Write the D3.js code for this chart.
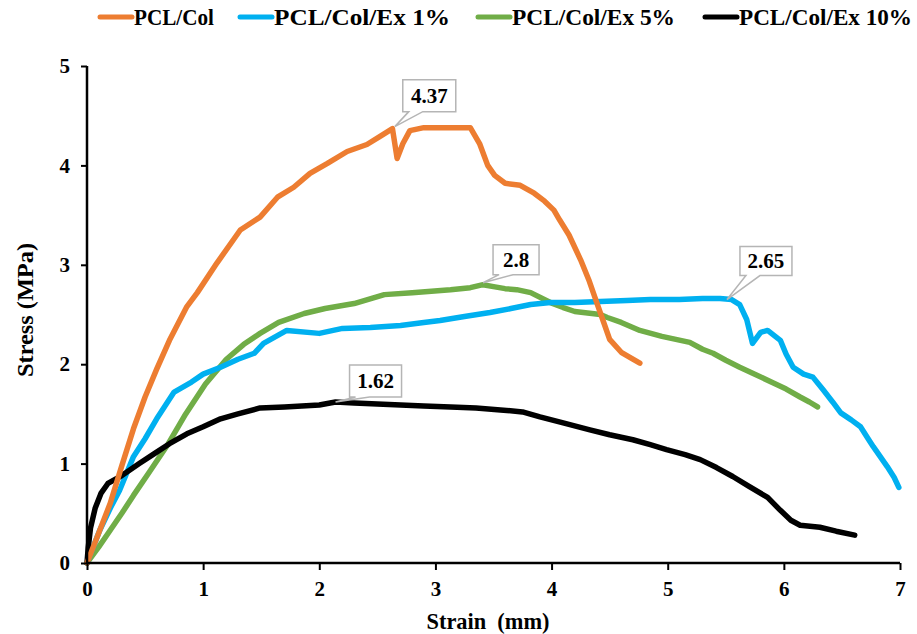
<!DOCTYPE html>
<html><head><meta charset="utf-8">
<script src="https://cdn.jsdelivr.net/npm/d3@7"></script>
<style>body{margin:0;background:#fff}svg{display:block}text{font-family:"Liberation Serif","Times New Roman",serif;font-weight:bold}</style>
</head><body><svg id="c" width="917" height="634"></svg>
<script>
const seriesNames = ["PCL/Col","PCL/Col/Ex 1%","PCL/Col/Ex 5%","PCL/Col/Ex 10%"];
const seriesColors = ["#ED7D31","#00B0F0","#70AD47","#000000"];
const xTicks = [0,1,2,3,4,5,6,7];
const yTicks = [0,1,2,3,4,5];

const pclColX = [0,0.1,0.2,0.3,0.4,0.5,0.6,0.71,0.86,0.95,1.12,1.32,1.49,1.64,1.78,1.92,2.07,2.24,2.41,2.52,2.63,2.67,2.72,2.78,2.9,3.1,3.2,3.3,3.38,3.45,3.51,3.6,3.73,3.85,3.94,4.02,4.07,4.15,4.25,4.32,4.38,4.44,4.5,4.6,4.7,4.76];
const pclColY = [0,0.3,0.6,0.98,1.35,1.67,1.95,2.24,2.58,2.72,3.02,3.35,3.48,3.68,3.78,3.92,4.02,4.14,4.21,4.29,4.37,4.07,4.22,4.35,4.38,4.38,4.38,4.38,4.22,4.0,3.9,3.82,3.8,3.72,3.64,3.55,3.45,3.3,3.05,2.85,2.65,2.45,2.25,2.12,2.05,2.01];

const ex1X = [0,0.05,0.11,0.2,0.28,0.4,0.5,0.6,0.75,0.9,1.0,1.15,1.3,1.44,1.52,1.72,2.0,2.2,2.44,2.7,2.9,3.04,3.25,3.47,3.65,3.82,3.99,4.2,4.42,4.65,4.85,5.1,5.3,5.45,5.55,5.62,5.68,5.73,5.8,5.86,5.97,6.02,6.08,6.17,6.25,6.34,6.42,6.49,6.58,6.66,6.72,6.77,6.83,6.89,6.95,6.99];
const ex1Y = [0,0.15,0.33,0.55,0.73,1.07,1.25,1.45,1.72,1.82,1.9,1.97,2.05,2.11,2.21,2.34,2.31,2.36,2.37,2.39,2.42,2.44,2.48,2.52,2.56,2.6,2.62,2.62,2.63,2.64,2.65,2.65,2.66,2.66,2.65,2.6,2.45,2.21,2.32,2.34,2.24,2.1,1.97,1.9,1.87,1.74,1.62,1.51,1.44,1.37,1.26,1.17,1.07,0.97,0.86,0.76];

const ex5X = [0,0.1,0.2,0.3,0.4,0.54,0.7,0.85,1.02,1.2,1.35,1.49,1.65,1.87,2.05,2.3,2.56,2.8,3.13,3.3,3.41,3.5,3.6,3.7,3.82,3.99,4.1,4.2,4.42,4.48,4.6,4.76,4.95,5.19,5.3,5.39,5.5,5.62,5.75,5.91,6.02,6.14,6.22,6.29];
const ex5Y = [0,0.16,0.33,0.5,0.68,0.92,1.2,1.5,1.8,2.05,2.2,2.31,2.42,2.51,2.56,2.61,2.7,2.72,2.75,2.77,2.8,2.78,2.76,2.75,2.72,2.62,2.57,2.53,2.5,2.47,2.42,2.34,2.28,2.22,2.15,2.11,2.04,1.97,1.9,1.81,1.75,1.67,1.62,1.57];

const ex10X = [0,0.01,0.03,0.07,0.12,0.18,0.3,0.45,0.58,0.71,0.86,1.0,1.15,1.3,1.49,1.7,2.0,2.14,2.3,2.5,2.7,2.9,3.13,3.35,3.56,3.75,3.9,4.1,4.33,4.5,4.7,4.85,4.99,5.15,5.28,5.42,5.56,5.7,5.86,5.97,6.06,6.14,6.31,6.45,6.61];
const ex10Y = [0,0.15,0.35,0.55,0.7,0.8,0.88,1.0,1.1,1.2,1.3,1.37,1.45,1.5,1.56,1.57,1.59,1.62,1.61,1.6,1.59,1.58,1.57,1.56,1.54,1.52,1.47,1.41,1.34,1.29,1.24,1.19,1.14,1.09,1.04,0.96,0.87,0.77,0.66,0.53,0.43,0.38,0.36,0.32,0.28];

const peakLabels = ["4.37","2.8","2.65","1.62"];
const peakX = [2.65,3.41,5.51,2.14];
const peakY = [4.39,2.82,2.65,1.62];

const svg = d3.select("#c");
const x = d3.scaleLinear().domain([0,7]).range([87,900]);
const y = d3.scaleLinear().domain([0,5]).range([563,66]);

const allX = [pclColX, ex1X, ex5X, ex10X];
const allY = [pclColY, ex1Y, ex5Y, ex10Y];
const line = d3.line().x(d=>x(d[0])).y(d=>y(d[1]));

const order = [2,1,3,0];
order.forEach(i=>{
  const pts = allX[i].map((v,k)=>[v, allY[i][k]]);
  svg.append("path").datum(pts).attr("d", line)
    .attr("fill","none").attr("stroke", seriesColors[i])
    .attr("stroke-width",5.5).attr("stroke-linejoin","round").attr("stroke-linecap","round");
});

// axes
const xAxis = svg.append("g").attr("transform","translate(0,563)")
  .call(d3.axisBottom(x).tickValues(xTicks).tickSize(7).tickPadding(11).tickFormat(d3.format("d")));
const yAxis = svg.append("g").attr("transform","translate(87,0)")
  .call(d3.axisLeft(y).tickValues(yTicks).tickSize(6).tickPadding(11).tickFormat(d3.format("d")));
[xAxis,yAxis].forEach(g=>{
  g.select(".domain").attr("stroke","#000").attr("stroke-width",2.5);
  g.selectAll(".tick line").attr("stroke","#000").attr("stroke-width",2);
  g.selectAll(".tick text").attr("font-size",21).attr("fill","#000")
    .attr("font-family","Liberation Serif, Times New Roman, serif").attr("font-weight","bold");
});
xAxis.select(".domain").attr("d","M87,0H900");
yAxis.select(".domain").attr("d","M0,563V66");

svg.append("text").attr("x",488).attr("y",629).attr("text-anchor","middle").attr("font-size",24)
  .attr("xml:space","preserve").attr("textLength",123).attr("lengthAdjust","spacingAndGlyphs").text("Strain  (mm)");
svg.append("text").attr("transform","translate(33,310) rotate(-90)").attr("text-anchor","middle")
  .attr("font-size",24).attr("textLength",134).attr("lengthAdjust","spacingAndGlyphs").text("Stress (MPa)");

// callouts: [dx from tip to box left, dy from tip to box top, width, height]
const boxGeom = [[8,-47,53,32],[10,-38,46,30],[13,-53,52,29],[14,-37,52,32]];
peakLabels.forEach((lab,i)=>{
  const px = x(peakX[i]), py = y(peakY[i]);
  const [dx,dy,w,h] = boxGeom[i];
  const bx = px+dx, by = py+dy;
  const a1 = bx+6, a2 = bx+20;
  const path = `M${bx},${by}H${bx+w}V${by+h}H${a2}L${px},${py}L${a1},${by+h}H${bx}Z`;
  svg.append("path").attr("d",path).attr("fill","#fff").attr("stroke","#b5b5b5").attr("stroke-width",1.5);
  svg.append("text").attr("x",bx+w/2).attr("y",by+h/2+7).attr("text-anchor","middle")
    .attr("font-size",21).text(lab);
});

// legend
const legX = [100,240,478,705];
const legTextLen = [80,176,163,173];
seriesNames.forEach((n,i)=>{
  svg.append("line").attr("x1",legX[i]).attr("x2",legX[i]+32).attr("y1",17).attr("y2",17)
    .attr("stroke",seriesColors[i]).attr("stroke-width",5).attr("stroke-linecap","round");
  svg.append("text").attr("x",legX[i]+34).attr("y",25).attr("font-size",23)
    .attr("textLength",legTextLen[i]).attr("lengthAdjust","spacingAndGlyphs").text(n);
});
</script></body></html>
